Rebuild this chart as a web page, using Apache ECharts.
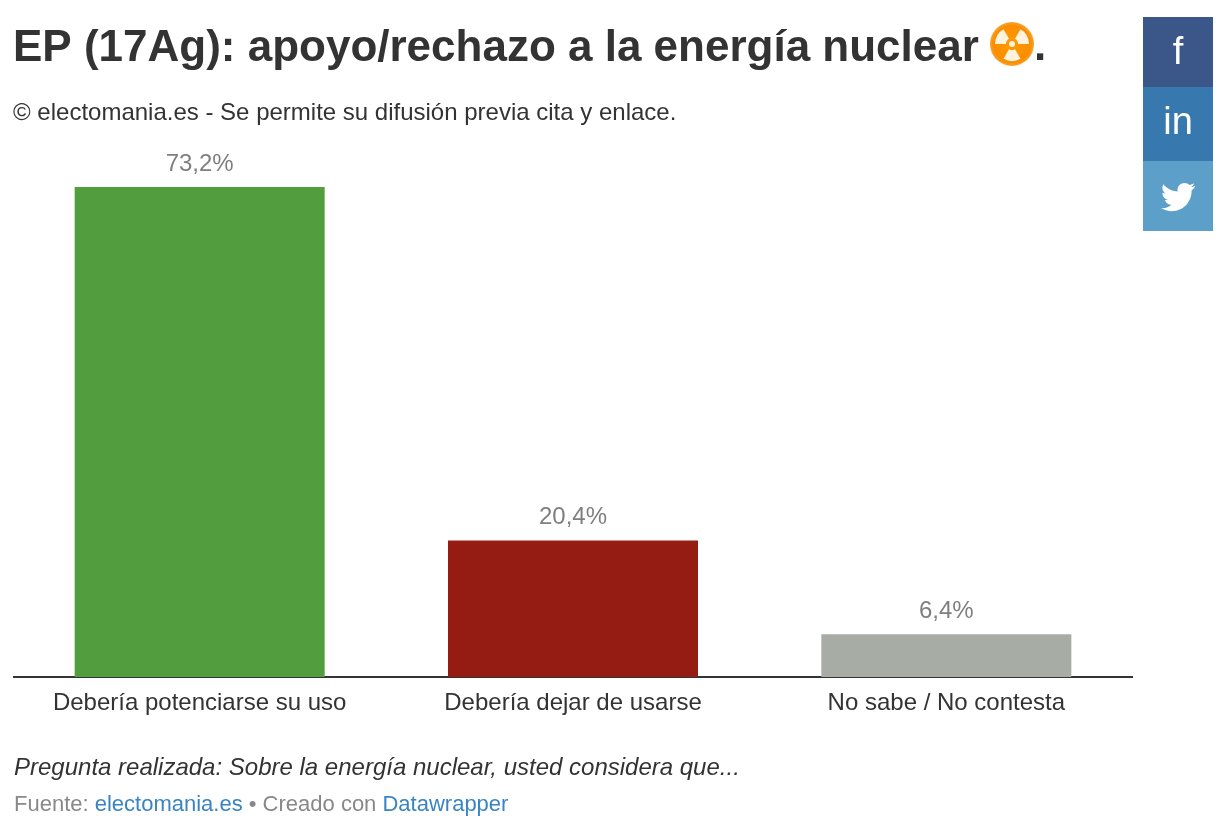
<!DOCTYPE html>
<html>
<head>
<meta charset="utf-8">
<style>html,body{margin:0;padding:0;background:#fff}#c{width:1230px;height:828px}</style>
<script src="https://cdn.jsdelivr.net/npm/echarts@6/dist/echarts.min.js"></script>
</head>
<body>
<div id="c"></div>
<script>
const categories = ['Debería potenciarse su uso', 'Debería dejar de usarse', 'No sabe / No contesta'];
const values = [73.2, 20.4, 6.4];
const barColors = ['#529e3e', '#951c12', '#a7aca5'];
const titleText = 'EP (17Ag): apoyo/rechazo a la energía nuclear';
const subtitleText = '© electomania.es - Se permite su difusión previa cita y enlace.';
const questionText = 'Pregunta realizada: Sobre la energía nuclear, usted considera que...';
const font = '"Liberation Sans", Arial, sans-serif';

echarts.graphic.registerShape('birdIcon', echarts.graphic.extendPath(
  'M34 3c-1.300.6-2.600 1-4 1.100 1.400-.9 2.500-2.200 3-3.800-1.300.8-2.800 1.400-4.400 1.700C27.300.7 25.500 0 23.500 0c-3.900 0-7 3.100-7 7 0 .5.100 1.100.2 1.600C10.900 8.300 5.700 5.500 2.300 1.300 1.700 2.300 1.400 3.500 1.400 4.800c0 2.400 1.200 4.600 3.100 5.800-1.100 0-2.200-.3-3.100-.8v.1c0 3.400 2.400 6.200 5.600 6.900-.6.200-1.200.2-1.800.2-.5 0-.9 0-1.300-.1.900 2.800 3.500 4.800 6.500 4.900C8 24.100 5 25.200 1.700 25.200c-.6 0-1.100 0-1.700-.1 3.100 2 6.800 3.100 10.700 3.100 12.900 0 19.900-10.700 19.900-19.900v-.9c1.400-1 2.500-2.200 3.400-3.600z', {}));

const chart = echarts.init(document.getElementById('c'), null, {renderer: 'canvas'});

const iconX = 1012, iconY = 44;
const blade = (a) => ({
  type: 'sector',
  shape: {cx: iconX, cy: iconY, r0: 6, r: 17, startAngle: (a - 30) * Math.PI / 180, endAngle: (a + 30) * Math.PI / 180},
  style: {fill: '#fff3dd'}, z: 12
});
const socialBtn = (y, h, color, label, size, dy) => ([
  {type: 'rect', shape: {x: 1143, y: y, width: 70, height: h}, style: {fill: color}, z: 10},
  label ? {type: 'text', x: 1178, y: y + h / 2 + dy, style: {text: label, fill: '#fff', font: size + 'px ' + font, textAlign: 'center', textVerticalAlign: 'middle'}, z: 11} : null
].filter(Boolean));

chart.setOption({
  animation: false,
  backgroundColor: '#ffffff',
  title: [
    {text: titleText, left: 8, top: 22, textStyle: {fontFamily: font, fontSize: 44, fontWeight: 'bold', color: '#333333'}},
    {text: subtitleText, left: 8, top: 96, textStyle: {fontFamily: font, fontSize: 24, fontWeight: 'normal', color: '#333333'}}
  ],
  grid: {left: 13, top: 187, width: 1120, height: 490},
  xAxis: {
    type: 'category', data: categories,
    axisLine: {lineStyle: {color: '#333333', width: 2, cap: 'butt'}},
    axisTick: {show: false},
    axisLabel: {fontFamily: font, fontSize: 24, color: '#333333', margin: 14, interval: 0, hideOverlap: false}
  },
  yAxis: {type: 'value', min: 0, max: 73.2, show: false, splitLine: {show: false}},
  series: [{
    type: 'bar', barWidth: 250,
    data: values.map((v, i) => ({value: v, itemStyle: {color: barColors[i]}})),
    label: {
      show: true, position: 'top', distance: 11,
      fontFamily: font, fontSize: 24, color: '#7f7f7f',
      formatter: (p) => p.value.toFixed(1).replace('.', ',') + '%'
    }
  }],
  graphic: [
    {type: 'circle', shape: {cx: iconX, cy: iconY, r: 22}, style: {fill: new echarts.graphic.RadialGradient(0.5, 0.5, 0.5, [{offset: 0, color: '#ff9a00'}, {offset: 0.85, color: '#fb8e00'}, {offset: 1, color: '#f6a534'}])}, z: 11},
    blade(210), blade(330), blade(90),
    {type: 'circle', shape: {cx: iconX, cy: iconY, r: 3}, style: {fill: '#fff3dd'}, z: 12},
    {type: 'text', x: 1034, y: 26, style: {text: '.', fill: '#333333', font: 'bold 44px ' + font}, z: 11},
    ...socialBtn(17, 70, '#3b5689', 'f', 38, 2),
    ...socialBtn(87, 74, '#3778af', 'in', 38, 0),
    ...socialBtn(161, 70, '#5c9fc9', '', 0, 0),
    {type: 'birdIcon', x: 1161, y: 183, z: 11, style: {fill: '#ffffff'}},
    {type: 'text', x: 14, y: 756, style: {text: questionText, fill: '#333333', font: 'italic 24px ' + font}},
    {type: 'text', x: 14, y: 794, style: {
      text: '{g|Fuente: }{b|electomania.es}{g| • Creado con }{b|Datawrapper}',
      font: '22px ' + font,
      rich: {g: {fill: '#888888', font: '22px ' + font}, b: {fill: '#3a84c4', font: '22px ' + font}}
    }}
  ]
});
</script>
</body>
</html>
